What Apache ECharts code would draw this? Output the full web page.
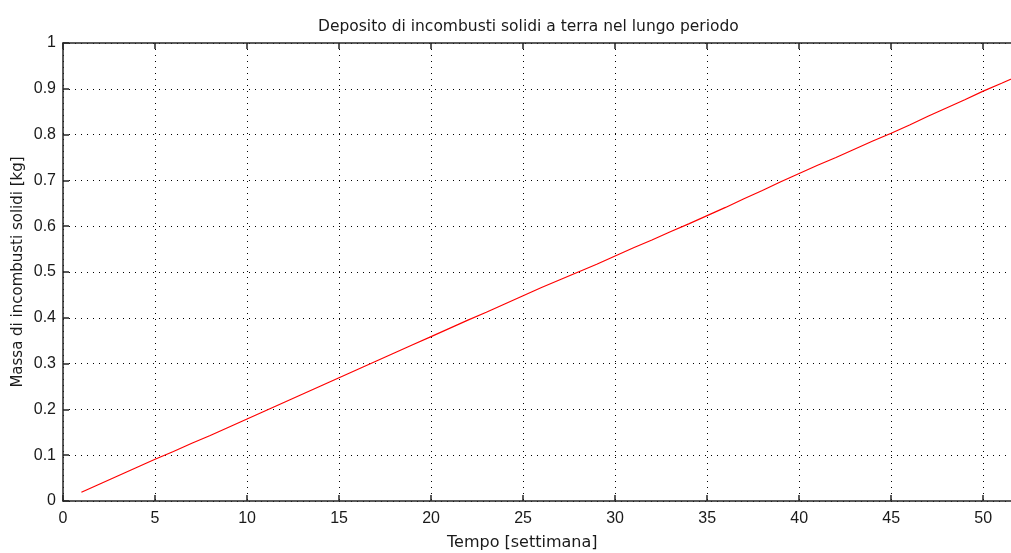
<!DOCTYPE html>
<html>
<head>
<meta charset="utf-8">
<script src="https://cdn.jsdelivr.net/npm/echarts@6/dist/echarts.min.js"></script>
<style>
  html, body { margin: 0; padding: 0; background: #ffffff; }
  #chart { width: 1011px; height: 553px; }
</style>
</head>
<body>
<div id="chart"></div>
<script>
// Weeks and cumulative mass of solid unburnt residue deposited on the ground
const weeks = [1,2,3,4,5,6,7,8,9,10,11,12,13,14,15,16,17,18,19,20,21,22,23,24,25,26,
  27,28,29,30,31,32,33,34,35,36,37,38,39,40,41,42,43,44,45,46,47,48,49,50,51,52];
const massKg = [0.019,0.037,0.055,0.073,0.091,0.108,0.126,0.143,0.161,0.179,0.197,0.215,0.233,
  0.251,0.269,0.287,0.305,0.323,0.341,0.359,0.377,0.395,0.412,0.430,0.448,0.466,0.483,0.500,
  0.517,0.535,0.553,0.570,0.588,0.605,0.623,0.641,0.660,0.678,0.697,0.715,0.733,0.750,0.768,
  0.786,0.803,0.821,0.840,0.858,0.876,0.895,0.912,0.930];

const titleText = 'Deposito di incombusti solidi a terra nel lungo periodo';
const xName = 'Tempo [settimana]';
const yName = 'Massa di incombusti solidi [kg]';

const tickFont = 'Liberation Sans, Arial, sans-serif';
const textFont = 'DejaVu Sans, sans-serif';
const axisColor = '#262626';
const gridDots = { color: '#000000', width: 1, type: [1, 5] };

const chart = echarts.init(document.getElementById('chart'), null, { renderer: 'canvas' });

chart.setOption({
  backgroundColor: '#ffffff',
  animation: false,
  title: {
    text: titleText,
    left: 313,
    top: 14,
    textStyle: { fontFamily: textFont, fontSize: 15.5, fontWeight: 'normal', color: '#1a1a1a' }
  },
  graphic: [
    {
      type: 'text',
      left: 447, top: 535,
      style: { text: xName, font: '16px ' + textFont, fill: '#1a1a1a' }
    },
    {
      type: 'text',
      x: 18, y: 272,
      rotation: Math.PI / 2,
      style: { text: yName, font: '15px ' + textFont, fill: '#1a1a1a', align: 'center', verticalAlign: 'middle' }
    }
  ],
  // the plot box runs past the right edge of the canvas
  grid: { left: 63, top: 43, width: 957, height: 458, containLabel: false, outerBoundsMode: 'none' },
  xAxis: [
    {
      type: 'value', min: 0, max: 52, interval: 5,
      axisLine: { show: true, lineStyle: { color: axisColor, width: 1.5 } },
      axisTick: { show: true, inside: true, length: 6, lineStyle: { color: axisColor, width: 1.5 } },
      axisLabel: {
        fontFamily: tickFont, fontSize: 16, color: '#1a1a1a', margin: 10,
        formatter: v => (v % 5 === 0 ? String(v) : '')
      },
      splitLine: { show: true, lineStyle: gridDots }
    },
    {
      type: 'value', min: 0, max: 52, interval: 5, position: 'top',
      axisLine: { show: true, lineStyle: { color: axisColor, width: 1.5 } },
      axisTick: { show: true, inside: true, length: 6, lineStyle: { color: axisColor, width: 1.5 } },
      axisLabel: { show: false },
      splitLine: { show: false }
    }
  ],
  yAxis: {
    type: 'value', min: 0, max: 1, interval: 0.1,
    axisLine: { show: true, lineStyle: { color: axisColor, width: 1.5 } },
    axisTick: { show: true, inside: true, length: 6, lineStyle: { color: axisColor, width: 1.5 } },
    axisLabel: {
      fontFamily: tickFont, fontSize: 16, color: '#1a1a1a', margin: 7,
      formatter: v => String(Math.round(v * 10) / 10)
    },
    splitLine: { show: true, lineStyle: gridDots }
  },
  series: [
    {
      type: 'line',
      xAxisIndex: 0,
      data: weeks.map((w, i) => [w, massKg[i]]),
      showSymbol: false,
      lineStyle: { color: '#ff0000', width: 1.2 },
      itemStyle: { color: '#ff0000' }
    }
  ]
});
</script>
</body>
</html>
